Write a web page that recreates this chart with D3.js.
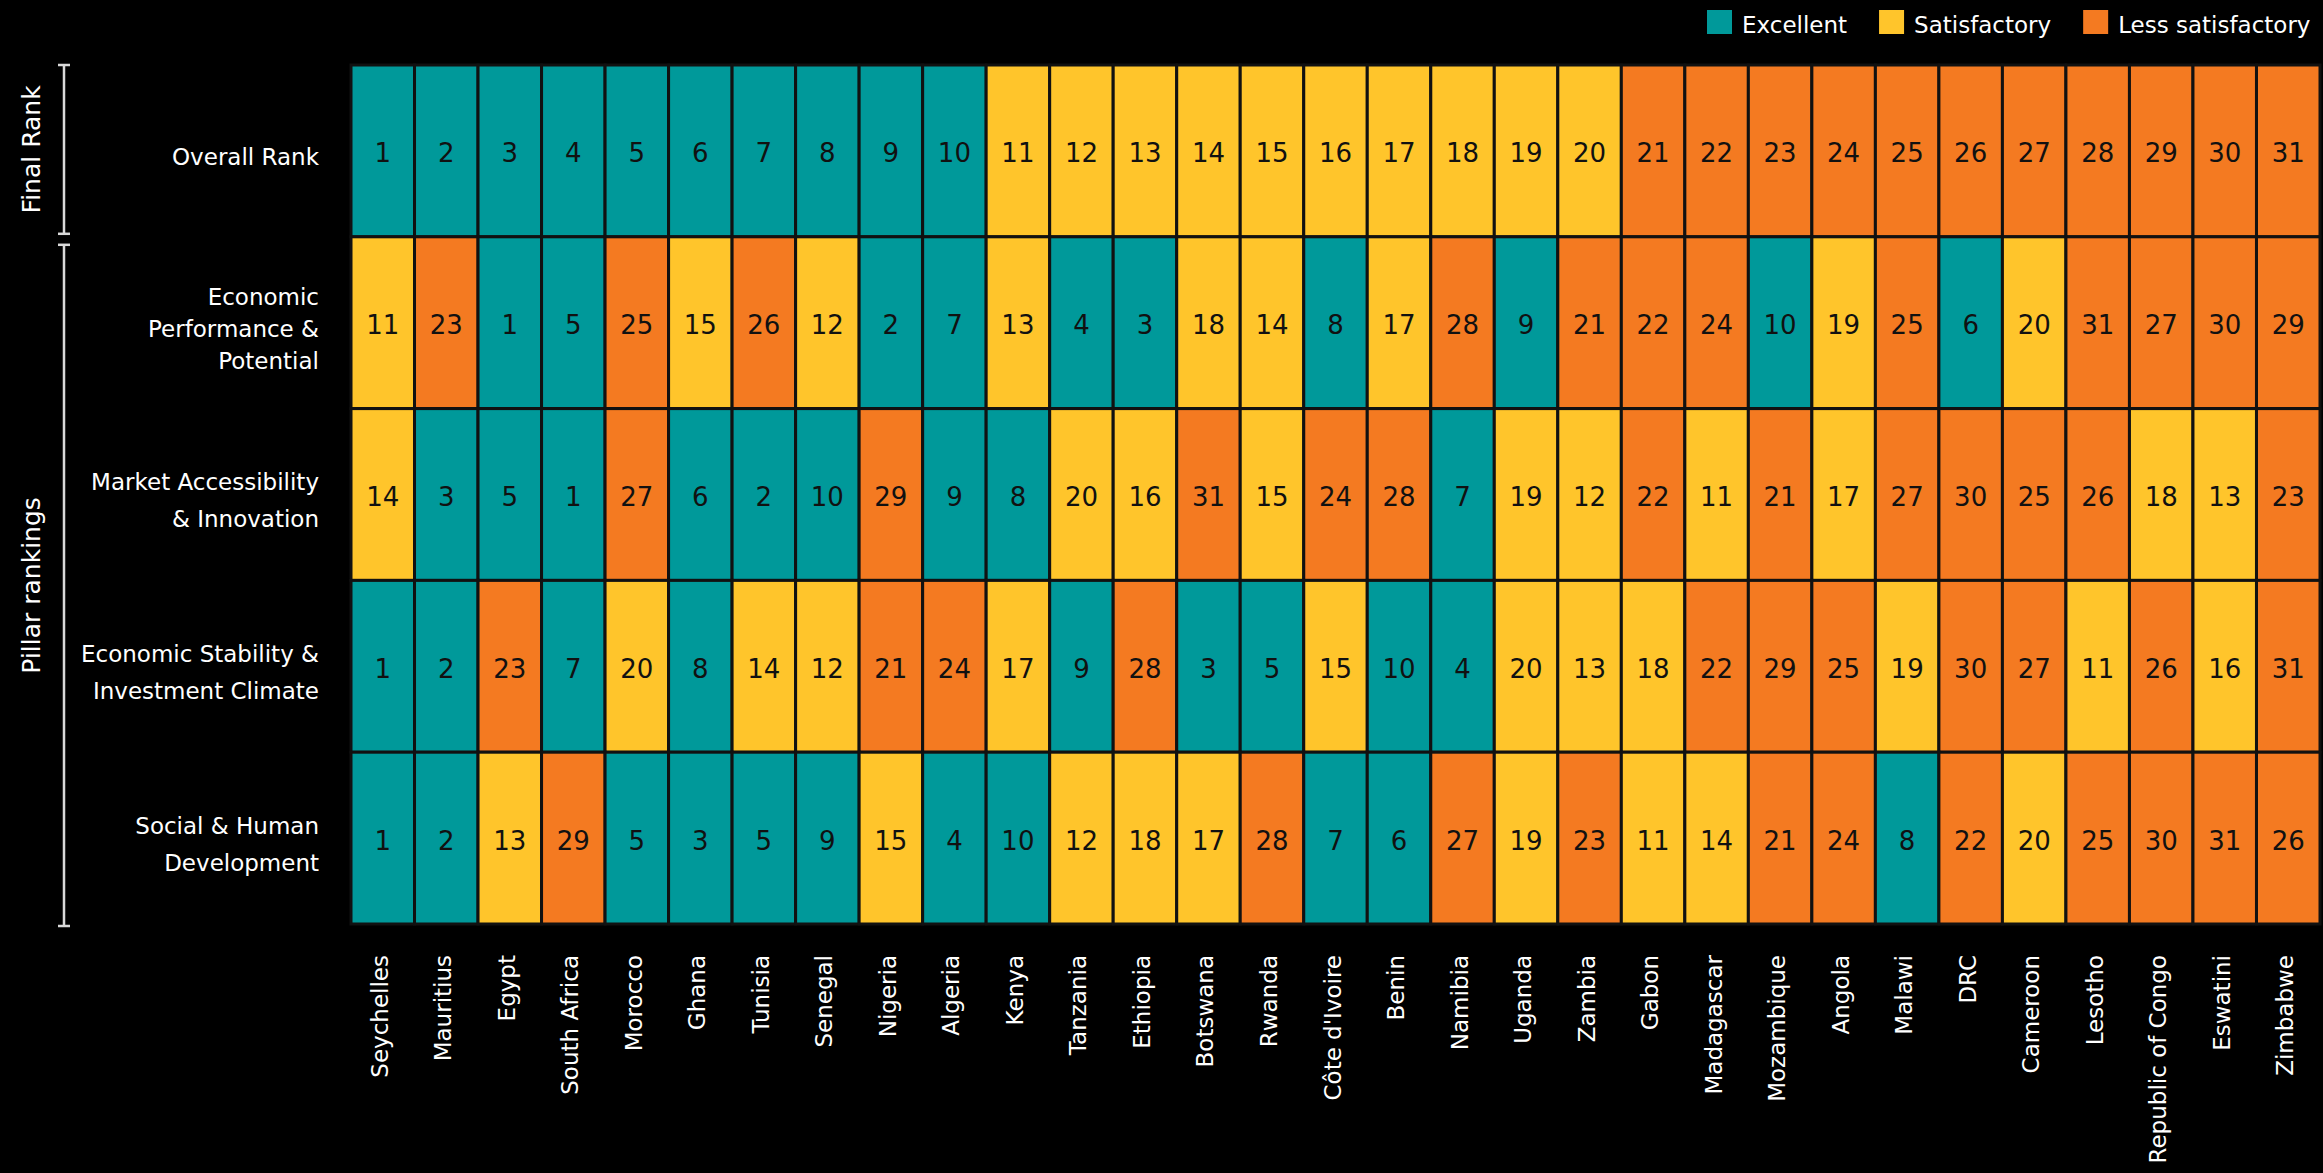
<!DOCTYPE html>
<html>
<head>
<meta charset="utf-8">
<script src="https://cdn.jsdelivr.net/npm/d3@7"></script>
<style>
  html, body { margin: 0; padding: 0; background: #000; }
  svg { display: block; }
  text { font-family: "DejaVu Sans", sans-serif; }
</style>
</head>
<body>
<div id="chart"></div>
<script>
// countries in order of overall rank
const countries = ["Seychelles", "Mauritius", "Egypt", "South Africa", "Morocco", "Ghana", "Tunisia", "Senegal",
  "Nigeria", "Algeria", "Kenya", "Tanzania", "Ethiopia", "Botswana", "Rwanda", "Côte d'Ivoire", "Benin",
  "Namibia", "Uganda", "Zambia", "Gabon", "Madagascar", "Mozambique", "Angola", "Malawi", "DRC",
  "Cameroon", "Lesotho", "Republic of Congo", "Eswatini", "Zimbabwe"];

const rowLabels = [
  ["Overall Rank"],
  ["Economic", "Performance &", "Potential"],
  ["Market Accessibility", "& Innovation"],
  ["Economic Stability &", "Investment Climate"],
  ["Social & Human", "Development"]
];

const overallRank = [1, 2, 3, 4, 5, 6, 7, 8, 9, 10, 11, 12, 13, 14, 15, 16, 17, 18, 19, 20, 21, 22, 23, 24, 25, 26, 27, 28, 29, 30, 31];
const econPerformance = [11, 23, 1, 5, 25, 15, 26, 12, 2, 7, 13, 4, 3, 18, 14, 8, 17, 28, 9, 21, 22, 24, 10, 19, 25, 6, 20, 31, 27, 30, 29];
const marketAccess = [14, 3, 5, 1, 27, 6, 2, 10, 29, 9, 8, 20, 16, 31, 15, 24, 28, 7, 19, 12, 22, 11, 21, 17, 27, 30, 25, 26, 18, 13, 23];
const econStability = [1, 2, 23, 7, 20, 8, 14, 12, 21, 24, 17, 9, 28, 3, 5, 15, 10, 4, 20, 13, 18, 22, 29, 25, 19, 30, 27, 11, 26, 16, 31];
const socialHuman = [1, 2, 13, 29, 5, 3, 5, 9, 15, 4, 10, 12, 18, 17, 28, 7, 6, 27, 19, 23, 11, 14, 21, 24, 8, 22, 20, 25, 30, 31, 26];

const rows = [overallRank, econPerformance, marketAccess, econStability, socialHuman];

const groups = [
  { label: "Final Rank", from: 0, to: 0 },
  { label: "Pillar rankings", from: 1, to: 4 }
];

const legendLabels = ["Excellent", "Satisfactory", "Less satisfactory"];
const rankBreaks = [11, 21];

const width = 2323, height = 1173;
const colors = ["#00999a", "#ffc52b", "#f47a21"];

const svg = d3.select("#chart").append("svg")
  .attr("width", width)
  .attr("height", height);

const x = d3.scaleBand().domain(d3.range(countries.length)).range([351, 2320]);
const y = d3.scaleBand().domain(d3.range(rows.length)).range([65, 924]);
const color = d3.scaleThreshold().domain(rankBreaks).range(colors);

// cells
const cells = [];
rows.forEach((r, ri) => r.forEach((v, ci) => cells.push({ ri, ci, v })));

const cell = svg.append("g").selectAll("g")
  .data(cells)
  .enter().append("g");

cell.append("rect")
  .attr("x", d => x(d.ci))
  .attr("y", d => y(d.ri))
  .attr("width", x.bandwidth())
  .attr("height", y.bandwidth())
  .attr("fill", d => color(d.v))
  .attr("stroke", "#111")
  .attr("stroke-width", 3);

cell.append("text")
  .attr("x", d => x(d.ci) + x.bandwidth() / 2)
  .attr("y", d => y(d.ri) + y.bandwidth() / 2 + 11.5)
  .attr("text-anchor", "middle")
  .attr("font-size", 26)
  .attr("fill", "#111")
  .text(d => d.v);

// row labels
rowLabels.forEach((lines, i) => {
  const lh = lines.length > 2 ? 32 : 37;
  const cy = y(i) + y.bandwidth() / 2 + 5.5;
  const t = svg.append("text")
    .attr("text-anchor", "end")
    .attr("font-size", 23)
    .attr("fill", "#fff");
  lines.forEach((l, j) => {
    t.append("tspan")
      .attr("x", 319)
      .attr("y", cy + 8.4 - (lines.length - 1) * lh / 2 + j * lh)
      .text(l);
  });
});

// country labels
svg.append("g").selectAll("text")
  .data(countries)
  .enter().append("text")
  .attr("transform", (d, i) => `translate(${x(i) + x.bandwidth() / 2 + 5},955) rotate(-90)`)
  .attr("text-anchor", "end")
  .attr("font-size", 23)
  .attr("fill", "#fff")
  .text(d => d);

// group brackets
groups.forEach(g => {
  const y0 = g.from === 0 ? y(g.from) : y(g.from) + 8;
  const y1 = g.to === 0 ? y(g.to) + y.bandwidth() - 3 : y(g.to) + y.bandwidth() + 2;
  const b = svg.append("g").attr("stroke", "#d9d9d9").attr("stroke-width", 2.5);
  b.append("line").attr("x1", 64).attr("x2", 64).attr("y1", y0).attr("y2", y1);
  b.append("line").attr("x1", 58).attr("x2", 70).attr("y1", y0).attr("y2", y0);
  b.append("line").attr("x1", 58).attr("x2", 70).attr("y1", y1).attr("y2", y1);
  svg.append("text")
    .attr("transform", `translate(40,${(y0 + y1) / 2}) rotate(-90)`)
    .attr("text-anchor", "middle")
    .attr("font-size", 25)
    .attr("fill", "#fff")
    .text(g.label);
});

// legend
const legend = svg.append("g");
let lx = 1707;
legendLabels.forEach((l, i) => {
  legend.append("rect")
    .attr("x", lx).attr("y", 10)
    .attr("width", 25).attr("height", 24)
    .attr("fill", colors[i]);
  const t = legend.append("text")
    .attr("x", lx + 35).attr("y", 33)
    .attr("font-size", 23)
    .attr("fill", "#fff")
    .text(l);
  lx += 35 + t.node().getComputedTextLength() + 32;
});
</script>
</body>
</html>
